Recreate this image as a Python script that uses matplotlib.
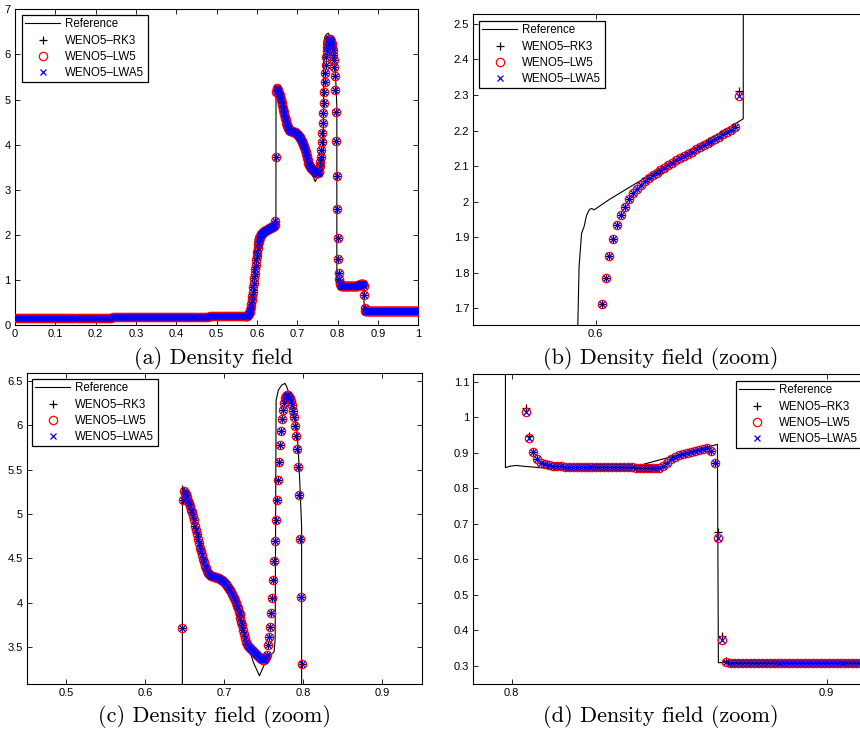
import numpy as np
import matplotlib
matplotlib.use('Agg')
import matplotlib.pyplot as plt
from matplotlib.ticker import FuncFormatter

plt.rcParams['font.family'] = ['Liberation Sans', 'DejaVu Sans']

# ---------------- data ----------------
# numerical solution, coarse sampling of the quiet left region (x = 0.0025 ... 0.5675, step 0.005)
rho_left = [
    0.150, 0.150, 0.150, 0.150, 0.150, 0.150, 0.150, 0.150, 0.150, 0.150, 0.150, 0.150,
    0.155, 0.155, 0.155, 0.155, 0.155, 0.155, 0.155, 0.155, 0.155, 0.155, 0.155, 0.155,
    0.160, 0.160, 0.160, 0.160, 0.160, 0.160, 0.160, 0.160, 0.160, 0.160, 0.160, 0.160,
    0.165, 0.165, 0.165, 0.165, 0.165, 0.165, 0.165, 0.165, 0.165, 0.165, 0.165, 0.165,
    0.170, 0.170, 0.170, 0.170, 0.170, 0.170, 0.170, 0.170, 0.170, 0.170, 0.170, 0.170,
    0.175, 0.175, 0.175, 0.175, 0.175, 0.175, 0.175, 0.175, 0.175, 0.175, 0.175, 0.175,
    0.180, 0.180, 0.180, 0.180, 0.180, 0.180, 0.180, 0.180, 0.180, 0.180, 0.180, 0.180,
    0.185, 0.185, 0.185, 0.185, 0.185, 0.185, 0.185, 0.185, 0.185, 0.185, 0.185, 0.185,
    0.190, 0.190, 0.190, 0.190, 0.190, 0.190, 0.190, 0.190, 0.190, 0.190,
    0.195, 0.195, 0.195, 0.195, 0.195, 0.195, 0.195, 0.195,
]
left_x0, left_dx = 0.0025, 0.005

# numerical solution on the fine grid (cells 456 ... 799 of 800)
fine_first_cell, n_cells = 456, 800
rho_fine = [
    # 456-480 : foot of the contact
    0.20, 0.20, 0.20, 0.205, 0.21, 0.215, 0.225, 0.24, 0.26, 0.29,
    0.33, 0.39, 0.46, 0.55, 0.64, 0.74, 0.84, 0.94, 1.04, 1.14,
    1.24, 1.34, 1.44, 1.535, 1.626,
    # 481-515
    1.712, 1.786, 1.847, 1.896, 1.933, 1.963, 1.986, 2.007, 2.023, 2.036,
    2.047, 2.057, 2.066, 2.074, 2.082, 2.089, 2.096, 2.103, 2.110, 2.116,
    2.123, 2.129, 2.135, 2.141, 2.147, 2.153, 2.159, 2.165, 2.171, 2.177,
    2.183, 2.189, 2.195, 2.201, 2.209,
    # 516-518
    2.298, 3.72, 5.158,
    # 519-601
    5.263, 5.24, 5.22, 5.19, 5.15, 5.12, 5.09, 5.05, 5.02, 4.98,
    4.93, 4.87, 4.82, 4.77, 4.72, 4.67, 4.62, 4.58, 4.54, 4.49,
    4.46, 4.42, 4.39, 4.36, 4.34, 4.32, 4.31, 4.305, 4.30, 4.30,
    4.295, 4.29, 4.29, 4.285, 4.28, 4.275, 4.27, 4.26, 4.255, 4.245,
    4.235, 4.22, 4.21, 4.19, 4.175, 4.16, 4.14, 4.12, 4.10, 4.08,
    4.05, 4.03, 4.00, 3.97, 3.94, 3.90, 3.87, 3.83, 3.79, 3.75,
    3.70, 3.65, 3.60, 3.56, 3.54, 3.52, 3.50, 3.49, 3.48, 3.47,
    3.455, 3.445, 3.435, 3.42, 3.41, 3.40, 3.39, 3.38, 3.37, 3.365,
    3.36, 3.36, 3.37,
    # 602-638
    3.39, 3.414, 3.527, 3.62, 3.733, 3.883, 4.059, 4.258, 4.471, 4.697,
    4.929, 5.158, 5.379, 5.589, 5.776, 5.934, 6.065, 6.17, 6.245, 6.30,
    6.33, 6.34, 6.335, 6.32, 6.30, 6.27, 6.226, 6.163, 6.088, 5.99,
    5.878, 5.731, 5.525, 5.214, 4.723, 4.07, 3.313,
    # 639-649
    2.565, 1.92, 1.456, 1.16, 1.015, 0.940, 0.902, 0.883, 0.872, 0.867, 0.864,
    # 650-675
    0.863, 0.862, 0.862, 0.861, 0.861, 0.861, 0.861, 0.861, 0.860, 0.860,
    0.860, 0.860, 0.860, 0.860, 0.860, 0.860, 0.859, 0.859, 0.859, 0.859,
    0.859, 0.858, 0.858, 0.858, 0.857, 0.857,
    # 676-694
    0.857, 0.858, 0.863, 0.872, 0.882, 0.889, 0.893, 0.896, 0.899, 0.902,
    0.905, 0.908, 0.911, 0.914, 0.905, 0.872, 0.659, 0.372, 0.311,
    # 695-799
    0.308, 0.308, 0.308, 0.308, 0.308, 0.308, 0.308, 0.308, 0.308, 0.308, 0.308, 0.308, 0.308, 0.308, 0.308,
    0.308, 0.308, 0.308, 0.308, 0.308, 0.308, 0.308, 0.308, 0.308, 0.308, 0.308, 0.308, 0.308, 0.308, 0.308,
    0.308, 0.308, 0.308, 0.308, 0.308, 0.308, 0.308, 0.308, 0.308, 0.308, 0.308, 0.308, 0.308, 0.308, 0.308,
    0.308, 0.308, 0.308, 0.308, 0.308, 0.308, 0.308, 0.308, 0.308, 0.308, 0.308, 0.308, 0.308, 0.308, 0.308,
    0.308, 0.308, 0.308, 0.308, 0.308, 0.308, 0.308, 0.308, 0.308, 0.308, 0.308, 0.308, 0.308, 0.308, 0.308,
    0.308, 0.308, 0.308, 0.308, 0.308, 0.308, 0.308, 0.308, 0.308, 0.308, 0.308, 0.308, 0.308, 0.308, 0.308,
    0.308, 0.308, 0.308, 0.308, 0.308, 0.308, 0.308, 0.308, 0.308, 0.308, 0.308, 0.308, 0.308, 0.308, 0.308,
]

# cells where WENO5-RK3 differs visibly from the Lax-Wendroff schemes
rk3_cells = [516, 643, 644, 692, 693, 694]
rk3_rho = [2.31, 1.025, 0.948, 0.676, 0.383, 0.314]

# reference solution
ref_x = [0.0, 0.2, 0.4, 0.55, 0.585, 0.589, 0.5925, 0.5938, 0.5943, 0.5947, 0.5955, 0.5963,
         0.5971, 0.598, 0.5987, 0.5995, 0.6045, 0.6131, 0.647, 0.6472, 0.6495, 0.655, 0.665,
         0.675, 0.681, 0.69, 0.70, 0.71, 0.72, 0.7265, 0.7307, 0.737, 0.7446, 0.752, 0.7581,
         0.7632, 0.7645, 0.7657, 0.7686, 0.7728, 0.777, 0.7792, 0.7812, 0.7876, 0.7918, 0.7939,
         0.796, 0.798, 0.798, 0.7995, 0.8015, 0.8035, 0.81, 0.8164, 0.825, 0.8358, 0.8653,
         0.8656, 1.0]
ref_y = [0.15, 0.16, 0.18, 0.20, 0.205, 0.21, 0.30, 1.20, 1.653, 1.817, 1.911, 1.930,
         1.962, 1.978, 1.981, 1.977, 2.007, 2.053, 2.233, 5.315, 5.27, 5.13, 4.77,
         4.43, 4.32, 4.29, 4.23, 4.08, 3.84, 3.62, 3.50, 3.33, 3.18, 3.33, 3.41,
         3.45, 3.60, 6.28, 6.395, 6.45, 6.47, 6.43, 6.38, 6.19, 5.96, 5.70,
         5.30, 4.85, 0.858, 0.862, 0.864, 0.862, 0.857, 0.853, 0.852, 0.853, 0.9235,
         0.308, 0.308]

labels = ['Reference', 'WENO5\u2013RK3', 'WENO5\u2013LW5', 'WENO5\u2013LWA5']
titles = ['(a) Density field', '(b) Density field (zoom)',
          '(c) Density field (zoom)', '(d) Density field (zoom)']

# ---------------- build series ----------------
x_left = left_x0 + left_dx * np.arange(len(rho_left))
x_fine = (np.arange(fine_first_cell, fine_first_cell + len(rho_fine)) + 0.5) / n_cells
x_num = np.concatenate([x_left, x_fine])
rho_lw5 = np.concatenate([rho_left, rho_fine])
rho_lwa5 = rho_lw5.copy()
rho_rk3 = rho_lw5.copy()
for c, v in zip(rk3_cells, rk3_rho):
    rho_rk3[len(rho_left) + c - fine_first_cell] = v

# ---------------- figure ----------------
W, H = 860, 735
fig = plt.figure(figsize=(W / 100, H / 100), dpi=100)

def add_ax(l, t, r, b):
    return fig.add_axes([l / W, 1 - b / H, (r - l) / W, (b - t) / H])

panels = [
    dict(box=(15, 9.3, 418.3, 325), xlim=(0, 1), ylim=(0, 7),
         xt=np.arange(0, 1.01, 0.1), yt=np.arange(0, 7.01, 1), leg=(22, 15),
         title=(214, 359)),
    dict(box=(473.3, 14, 876, 325), xlim=(0.561, 0.6893), ylim=(1.653, 2.528),
         xt=[0.6], yt=np.arange(1.7, 2.51, 0.1), leg=(479, 21), title=(661, 359)),
    dict(box=(26.7, 373.3, 421.7, 684.3), xlim=(0.45, 0.95), ylim=(3.084, 6.583),
         xt=np.arange(0.5, 0.91, 0.1), yt=np.arange(3.5, 6.51, 0.5), leg=(32, 379),
         title=(215, 717)),
    dict(box=(473.3, 374.3, 868, 684.3), xlim=(0.7878, 0.9131), ylim=(0.247, 1.121),
         xt=[0.8, 0.9], yt=np.arange(0.3, 1.11, 0.1), leg=(736, 381), title=(661, 717)),
]

fmt = FuncFormatter(lambda v, p: f'{v:g}')

for k, p in enumerate(panels):
    ax = add_ax(*p['box'])
    ax.plot(ref_x, ref_y, '-', color='k', lw=0.8, label=labels[0], zorder=2)
    ax.plot(x_num, rho_rk3, ls='none', marker='+', color='k', ms=6, mew=0.9,
            label=labels[1], zorder=3)
    ax.plot(x_num, rho_lw5, ls='none', marker='o', mfc='none', mec='#ff0000', ms=6,
            mew=0.9, label=labels[2], zorder=4)
    ax.plot(x_num, rho_lwa5, ls='none', marker='x', color='#0000ff', ms=4.5, mew=0.9,
            label=labels[3], zorder=5)
    ax.set_xlim(*p['xlim'])
    ax.set_ylim(*p['ylim'])
    ax.set_xticks(p['xt'])
    ax.set_yticks(p['yt'])
    ax.xaxis.set_major_formatter(fmt)
    ax.yaxis.set_major_formatter(fmt)
    ax.tick_params(direction='in', length=3.5, width=0.6, top=True, right=True,
                   labelsize=8, pad=3, colors='k')
    for s in ax.spines.values():
        s.set_linewidth(0.8)
        s.set_color('k')
    lx, ly = p['leg']
    leg = ax.legend(loc='upper left', bbox_to_anchor=(lx / W, 1 - ly / H),
                    bbox_transform=fig.transFigure, borderaxespad=0, frameon=True,
                    fancybox=False, edgecolor='k', framealpha=1, fontsize=8.3,
                    handlelength=3.0, handletextpad=0.45, labelspacing=0.36,
                    borderpad=0.3, numpoints=1)
    leg.get_frame().set_linewidth(0.9)
    tx, ty = p['title']
    fig.text(tx / W, 1 - ty / H, titles[k], ha='center', va='center', fontsize=16,
             family='cmr10')

fig.savefig('out.png', dpi=100)
